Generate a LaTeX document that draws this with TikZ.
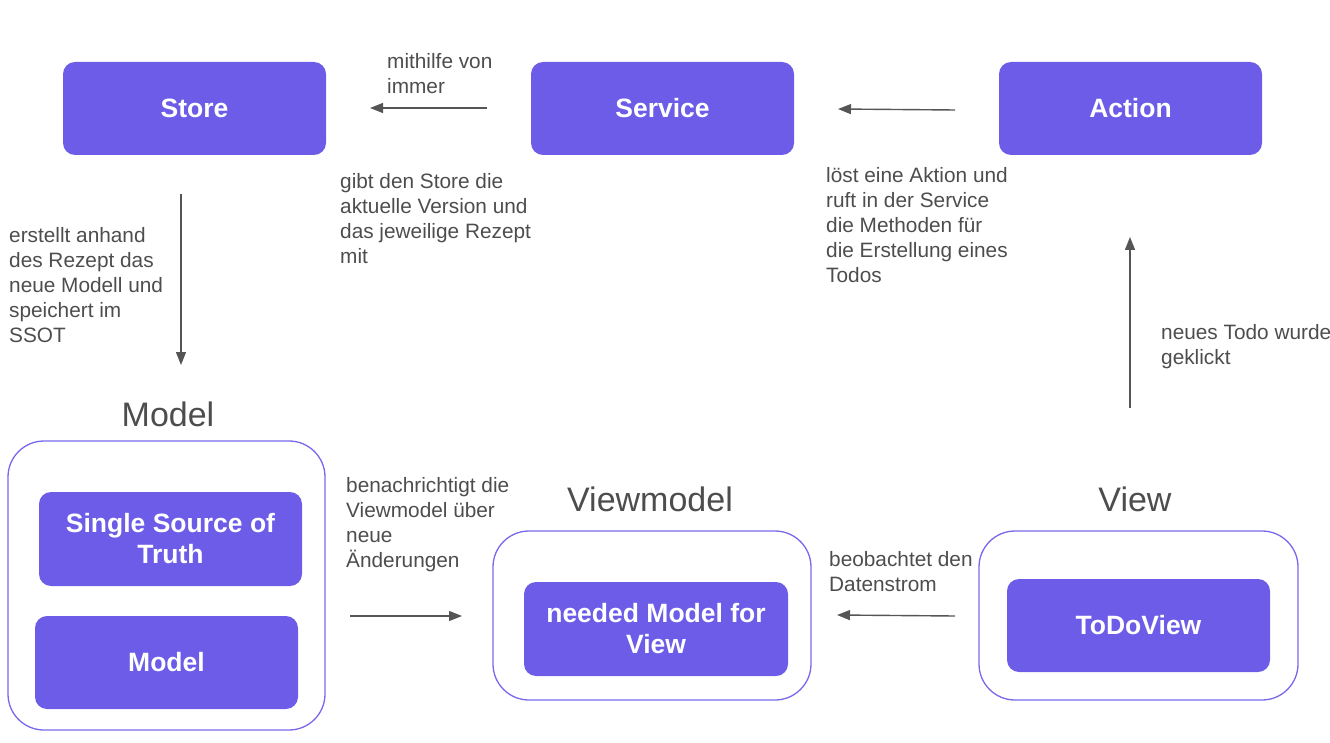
\documentclass[tikz,border=0pt]{standalone}
\usepackage{fontspec}
\setmainfont{Liberation Sans}
\usetikzlibrary{arrows.meta}
\definecolor{purp}{RGB}{108,92,231}
\definecolor{purpline}{RGB}{120,104,236}
\definecolor{txt}{RGB}{77,77,77}
\definecolor{arr}{RGB}{85,85,85}
\tikzset{
  pbox/.style={fill=purp, draw=none, rounded corners=12pt, minimum width=263pt, minimum height=93pt, inner sep=0pt, text=white, font=\fontsize{26.5}{31}\selectfont\bfseries, align=center},
  cont/.style={draw=purpline, line width=1.3pt, rounded corners=36pt, fill=none, inner sep=0pt},
  heading/.style={text=txt, font=\fontsize{34}{38}\selectfont, inner sep=0pt},
  lbl/.style={text=txt, font=\fontsize{20.8}{25}\selectfont, align=left, anchor=north west, inner sep=0pt},
  conn/.style={draw=arr, line width=1.4pt, -{Triangle[length=13pt,width=10pt]}}
}
\begin{document}
\begin{tikzpicture}[x=1pt,y=-1pt]
\useasboundingbox (0,0) rectangle (1330,743);
% top row
\node[pbox] (store) at (194.5,108.5) {Store};
\node[pbox] (service) at (662.5,108.5) {Service};
\node[pbox] (action) at (1130.5,108.5) {Action};
% containers
\node[cont, minimum width=317pt, minimum height=289pt] (modelc) at (166.5,585.5) {};
\node[cont, minimum width=318pt, minimum height=169pt] (vmc) at (652,615.5) {};
\node[cont, minimum width=319pt, minimum height=169pt] (viewc) at (1138.5,615.5) {};
% headings
\node[heading] (hmodel) at (168,414) {Model};
\node[heading] (hvm) at (650,499) {Viewmodel};
\node[heading] (hview) at (1135,499) {View};
% inner boxes
\node[pbox, minimum height=94pt] (ssot) at (170.5,539) {Single Source of\\Truth};
\node[pbox] (model) at (166.5,662.5) {Model};
\node[pbox, minimum width=264pt, minimum height=94pt] (needed) at (656,629) {needed Model for\\View};
\node[pbox] (todoview) at (1138.5,625.5) {ToDoView};
% connectors
\coordinate (a1s) at (487,108);
\coordinate (a1e) at (370,108);
\coordinate (a2s) at (955,110);
\coordinate (a2e) at (838,109);
\coordinate (a3s) at (181,194);
\coordinate (a3e) at (181,365);
\coordinate (a4s) at (1130,408);
\coordinate (a4e) at (1130,237);
\coordinate (a5s) at (350,616);
\coordinate (a5e) at (462,616);
\coordinate (a6s) at (955,616);
\coordinate (a6e) at (837,615);
\draw[conn] (a1s) -- (a1e);
\draw[conn] (a2s) -- (a2e);
\draw[conn] (a3s) -- (a3e);
\draw[conn] (a4s) -- (a4e);
\draw[conn] (a5s) -- (a5e);
\draw[conn] (a6s) -- (a6e);
% labels
\node[lbl] (l1) at (387,53) {mithilfe von\\immer};
\node[lbl] (l2) at (340,173) {gibt den Store die\\aktuelle Version und\\das jeweilige Rezept\\mit};
\node[lbl] (l3) at (826,167) {löst eine Aktion und\\ruft in der Service\\die Methoden für\\die Erstellung eines\\Todos};
\node[lbl] (l4) at (9,227) {erstellt anhand\\des Rezept das\\neue Modell und\\speichert im\\SSOT};
\node[lbl] (l5) at (1161,324) {neues Todo wurde\\geklickt};
\node[lbl] (l6) at (346,477) {benachrichtigt die\\Viewmodel über\\neue\\Änderungen};
\node[lbl] (l7) at (829,551) {beobachtet den\\Datenstrom};
\end{tikzpicture}
\end{document}
